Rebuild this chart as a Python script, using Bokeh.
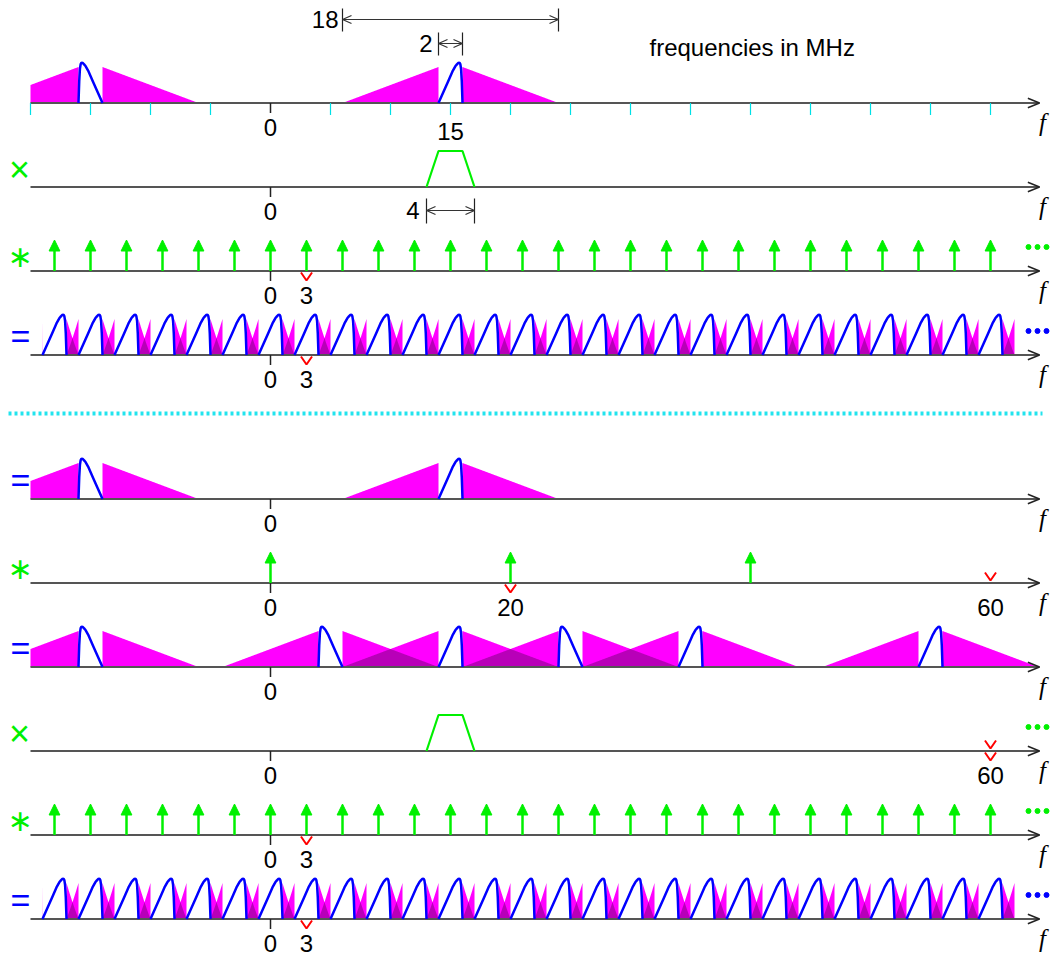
import numpy as np
from bokeh.plotting import figure
from bokeh.models import Range1d
from bokeh.core.properties import value
from bokeh.embed import file_html
from bokeh.resources import INLINE

# ---------------- data (frequencies in MHz) ----------------
channel_span = [6, 24]            # 18 MHz wide channel (positive side)
signal_band = [14, 16]            # 2 MHz wanted signal
carrier = 15
left_tri_f = [6, 14]              # magenta side lobes (relative level)
left_tri_h = [0.0, 1.0]
right_tri_f = [16, 24]
right_tri_h = [1.0, 0.0]
# blue signal profile across the 2 MHz band (offset from band start, level)
blue_u = [0.0, 0.4, 0.8, 1.2, 1.4, 1.55, 1.65, 1.75, 1.82, 1.88, 1.94, 2.0]
blue_h = [0.0, 0.30, 0.60, 0.90, 1.02, 1.08, 1.11, 1.12, 1.08, 0.95, 0.60, 0.0]
filter_f = [13, 14, 16, 17]       # band-pass filter (4 MHz at its foot)
filter_h = [0.0, 1.0, 1.0, 0.0]
comb3 = [-18, -15, -12, -9, -6, -3, 0, 3, 6, 9, 12, 15, 18, 21, 24, 27,
         30, 33, 36, 39, 42, 45, 48, 51, 54, 57, 60]
alias_shifts = [-33, -30, -27, -24, -21, -18, -15, -12, -9, -6, -3, 0, 3, 6,
                9, 12, 15, 18, 21, 24, 27, 30, 33, 36, 39, 42, 45, 48]
alias_window = [-19, 62]
sample20 = [0, 20, 40]
view_window = [-20, 64]
tick_f = [-20, -15, -10, -5, 5, 10, 15, 20, 25, 30, 35, 40, 45, 50, 55, 60]
row_numbers = [[0], [0], [0, 3], [0, 3], [0], [0, 20, 60], [0], [0, 60], [0, 3], [0, 3]]
marks_below = {2: [3], 3: [3], 5: [20], 7: [60], 8: [3], 9: [3]}
marks_above = {5: [60], 7: [60]}
operators = {1: "×", 2: "∗", 3: "=", 4: "=", 5: "∗", 6: "=", 7: "×", 8: "∗", 9: "="}

# ---------------- layout / style ----------------
W, H = 1050, 956
X0, PX, UNIT = 270.0, 12.0, 36.0
ROW_Y = [102.5, 186.5, 270.5, 354.5, 498.5, 582.5, 666.5, 750.5, 834.5, 918.5]
MAG, MAG_DARK = "#ff00ff", "#b800b8"
BLUE, GREEN, RED = "#0000ff", "#00f000", "#ff0000"
AXC = "#555555"
CYAN = "#00e0e6"
FONT = "Liberation Sans"
FS = "24px"


def fx(px):
    return (px - X0) / PX


p = figure(width=W, height=H, x_range=Range1d(fx(0), fx(W)),
           y_range=Range1d(H, 0), output_backend="svg", toolbar_location=None,
           x_axis_type=None, y_axis_type=None, min_border=0,
           outline_line_color=None, background_fill_color="white",
           border_fill_color="white")
p.grid.visible = False


def txt(x, y, s, size=FS, color="black", align="center", font=FONT,
        style="normal", baseline="middle"):
    p.text(x=[x], y=[y], text=[s], text_font=value(font), text_font_size=size,
           text_color=color, text_align=align, text_baseline=baseline,
           text_font_style=style)


def mag_parts(filtered):
    parts = []
    for f, h in ((left_tri_f, left_tri_h), (right_tri_f, right_tri_h)):
        fs = np.linspace(f[0], f[1], 161)
        hs = np.interp(fs, f, h)
        parts.append((fs, hs))
        if not filtered:
            parts.append((-fs[::-1], hs[::-1]))
    if filtered:
        parts = [(fs, hs * np.interp(fs, filter_f, filter_h, left=0, right=0))
                 for fs, hs in parts]
    return parts


def blue_parts(filtered):
    fb = signal_band[0] + np.array(blue_u)
    hb = np.array(blue_h)
    parts = [(fb, hb)]
    if filtered:
        parts = [(f, h * np.interp(f, filter_f, filter_h, left=0, right=0))
                 for f, h in parts]
    else:
        parts.append((-fb[::-1], hb[::-1]))
    return parts


def draw_spectrum(base, shifts, filtered, window):
    lo, hi = window
    mags = [(f + s, h) for s in shifts for f, h in mag_parts(filtered)]
    grid = [np.linspace(lo, hi, int((hi - lo) / 0.02) + 1)]
    for f, h in mags:
        for e in (f[0], f[-1]):
            if lo < e < hi:
                grid.append(np.array([e - 1e-6, e, e + 1e-6]))
    grid = np.unique(np.concatenate(grid))
    Hm = np.sort(np.array([np.interp(grid, f, h, left=0, right=0) for f, h in mags]), axis=0)
    p.varea(x=grid, y1=base, y2=base - Hm[-1] * UNIT, fill_color=MAG)
    p.varea(x=grid, y1=base, y2=base - Hm[-2] * UNIT, fill_color=MAG_DARK)
    return [(f + s, base - h * UNIT) for s in shifts for f, h in blue_parts(filtered)
            if f[0] + s >= lo - 1e-9 and f[-1] + s <= hi + 1e-9]


blue_lines = []
blue_lines += draw_spectrum(ROW_Y[0], [0], False, view_window)
blue_lines += draw_spectrum(ROW_Y[3], alias_shifts, True, alias_window)
blue_lines += draw_spectrum(ROW_Y[4], [0], False, view_window)
blue_lines += draw_spectrum(ROW_Y[6], sample20, False, view_window)
blue_lines += draw_spectrum(ROW_Y[9], alias_shifts, True, alias_window)

# axes with open arrowheads, zero ticks, f labels
AX0, AX1 = fx(30), fx(1039)
for i, y in enumerate(ROW_Y):
    p.line([AX0, AX1], [y, y], line_color=AXC, line_width=2)
    p.line([AX1 - 0.97, AX1, AX1 - 0.97], [y - 4.8, y, y + 4.8], line_color="#222222", line_width=1.5)
    p.segment(x0=[0], y0=[y], x1=[0], y1=[y + 10], line_color="#222222", line_width=1.5)
    txt(fx(1042), y + 19, "f", size="25px", font="Liberation Serif", style="italic")
    for n in row_numbers[i]:
        txt(n, y + 24.5, str(n))

# cyan ticks on first axis
p.segment(x0=tick_f, y0=[ROW_Y[0]] * len(tick_f), x1=tick_f,
          y1=[ROW_Y[0] + 12] * len(tick_f), line_color=CYAN, line_width=1.2)

# blue signal curves
p.multi_line([b[0] for b in blue_lines], [b[1] for b in blue_lines],
             line_color=BLUE, line_width=2.5)

# filters
for r in (1, 7):
    p.line(filter_f, ROW_Y[r] - np.array(filter_h) * UNIT, line_color=GREEN, line_width=2.2)


# impulse combs
def arrows(base, fs):
    n = len(fs)
    p.segment(x0=fs, y0=[base] * n, x1=fs, y1=[base - 21] * n,
              line_color=GREEN, line_width=2.5)
    p.patches([[f - 0.45, f + 0.45, f] for f in fs], [[base - 20, base - 20, base - 31]] * n,
              fill_color=GREEN, line_color=GREEN, line_width=1)


arrows(ROW_Y[2], comb3)
arrows(ROW_Y[8], comb3)
arrows(ROW_Y[5], sample20)

# red chevrons
cx, cy = [], []
for r, fs in marks_below.items():
    for f in fs:
        cx.append([f - 0.46, f, f + 0.46]); cy.append([ROW_Y[r] + 1.5, ROW_Y[r] + 9.5, ROW_Y[r] + 1.5])
for r, fs in marks_above.items():
    for f in fs:
        cx.append([f - 0.46, f, f + 0.46]); cy.append([ROW_Y[r] - 10.5, ROW_Y[r] - 2.5, ROW_Y[r] - 10.5])
p.multi_line(cx, cy, line_color=RED, line_width=2)

# continuation dots
for r, c in ((2, GREEN), (3, BLUE), (7, GREEN), (8, GREEN), (9, BLUE)):
    p.scatter([fx(1028), fx(1037), fx(1046)], [ROW_Y[r] - 24] * 3, size=5,
              fill_color=c, line_color=c, marker="circle")

# operator symbols
for r, s in operators.items():
    col = BLUE if s == "=" else GREEN
    if s == "∗":
        txt(fx(19.5), ROW_Y[r] - 15, s, size="30px", color=col, font="DejaVu Sans")
    elif s == "×":
        txt(fx(19), ROW_Y[r] - 18, s, size="36px", color=col)
    else:
        txt(fx(20), ROW_Y[r] - 19, s, size="34px", color=col)

# separator
p.line([fx(8), fx(1042)], [413, 413], line_color="#22e4ee", line_width=4, line_dash="3 3")


# dimension marks
def dim(f0, f1, y, top, bot, label, label_px):
    p.segment(x0=[f0, f1], y0=[top, top], x1=[f0, f1], y1=[bot, bot], line_color="#222222", line_width=1.2)
    p.line([f0, f1], [y, y], line_color="#333333", line_width=1.2)
    a = 0.75
    p.multi_line([[f0 + a, f0, f0 + a], [f1 - a, f1, f1 - a]],
                 [[y - 4, y, y + 4], [y - 4, y, y + 4]], line_color="#333333", line_width=1.2)
    txt(fx(label_px), y, label, align="right")


dim(channel_span[0], channel_span[1], 19, 8, 31, str(channel_span[1] - channel_span[0]), 338)
dim(signal_band[0], signal_band[1], 43, 32, 55, str(signal_band[1] - signal_band[0]), 432)
dim(filter_f[0], filter_f[-1], 210, 198, 223, str(filter_f[-1] - filter_f[0]), 419)
txt(carrier, 131, str(carrier))
txt(fx(649), 47, "frequencies in MHz", align="left")

open("out.html", "w").write(file_html(p, INLINE))
